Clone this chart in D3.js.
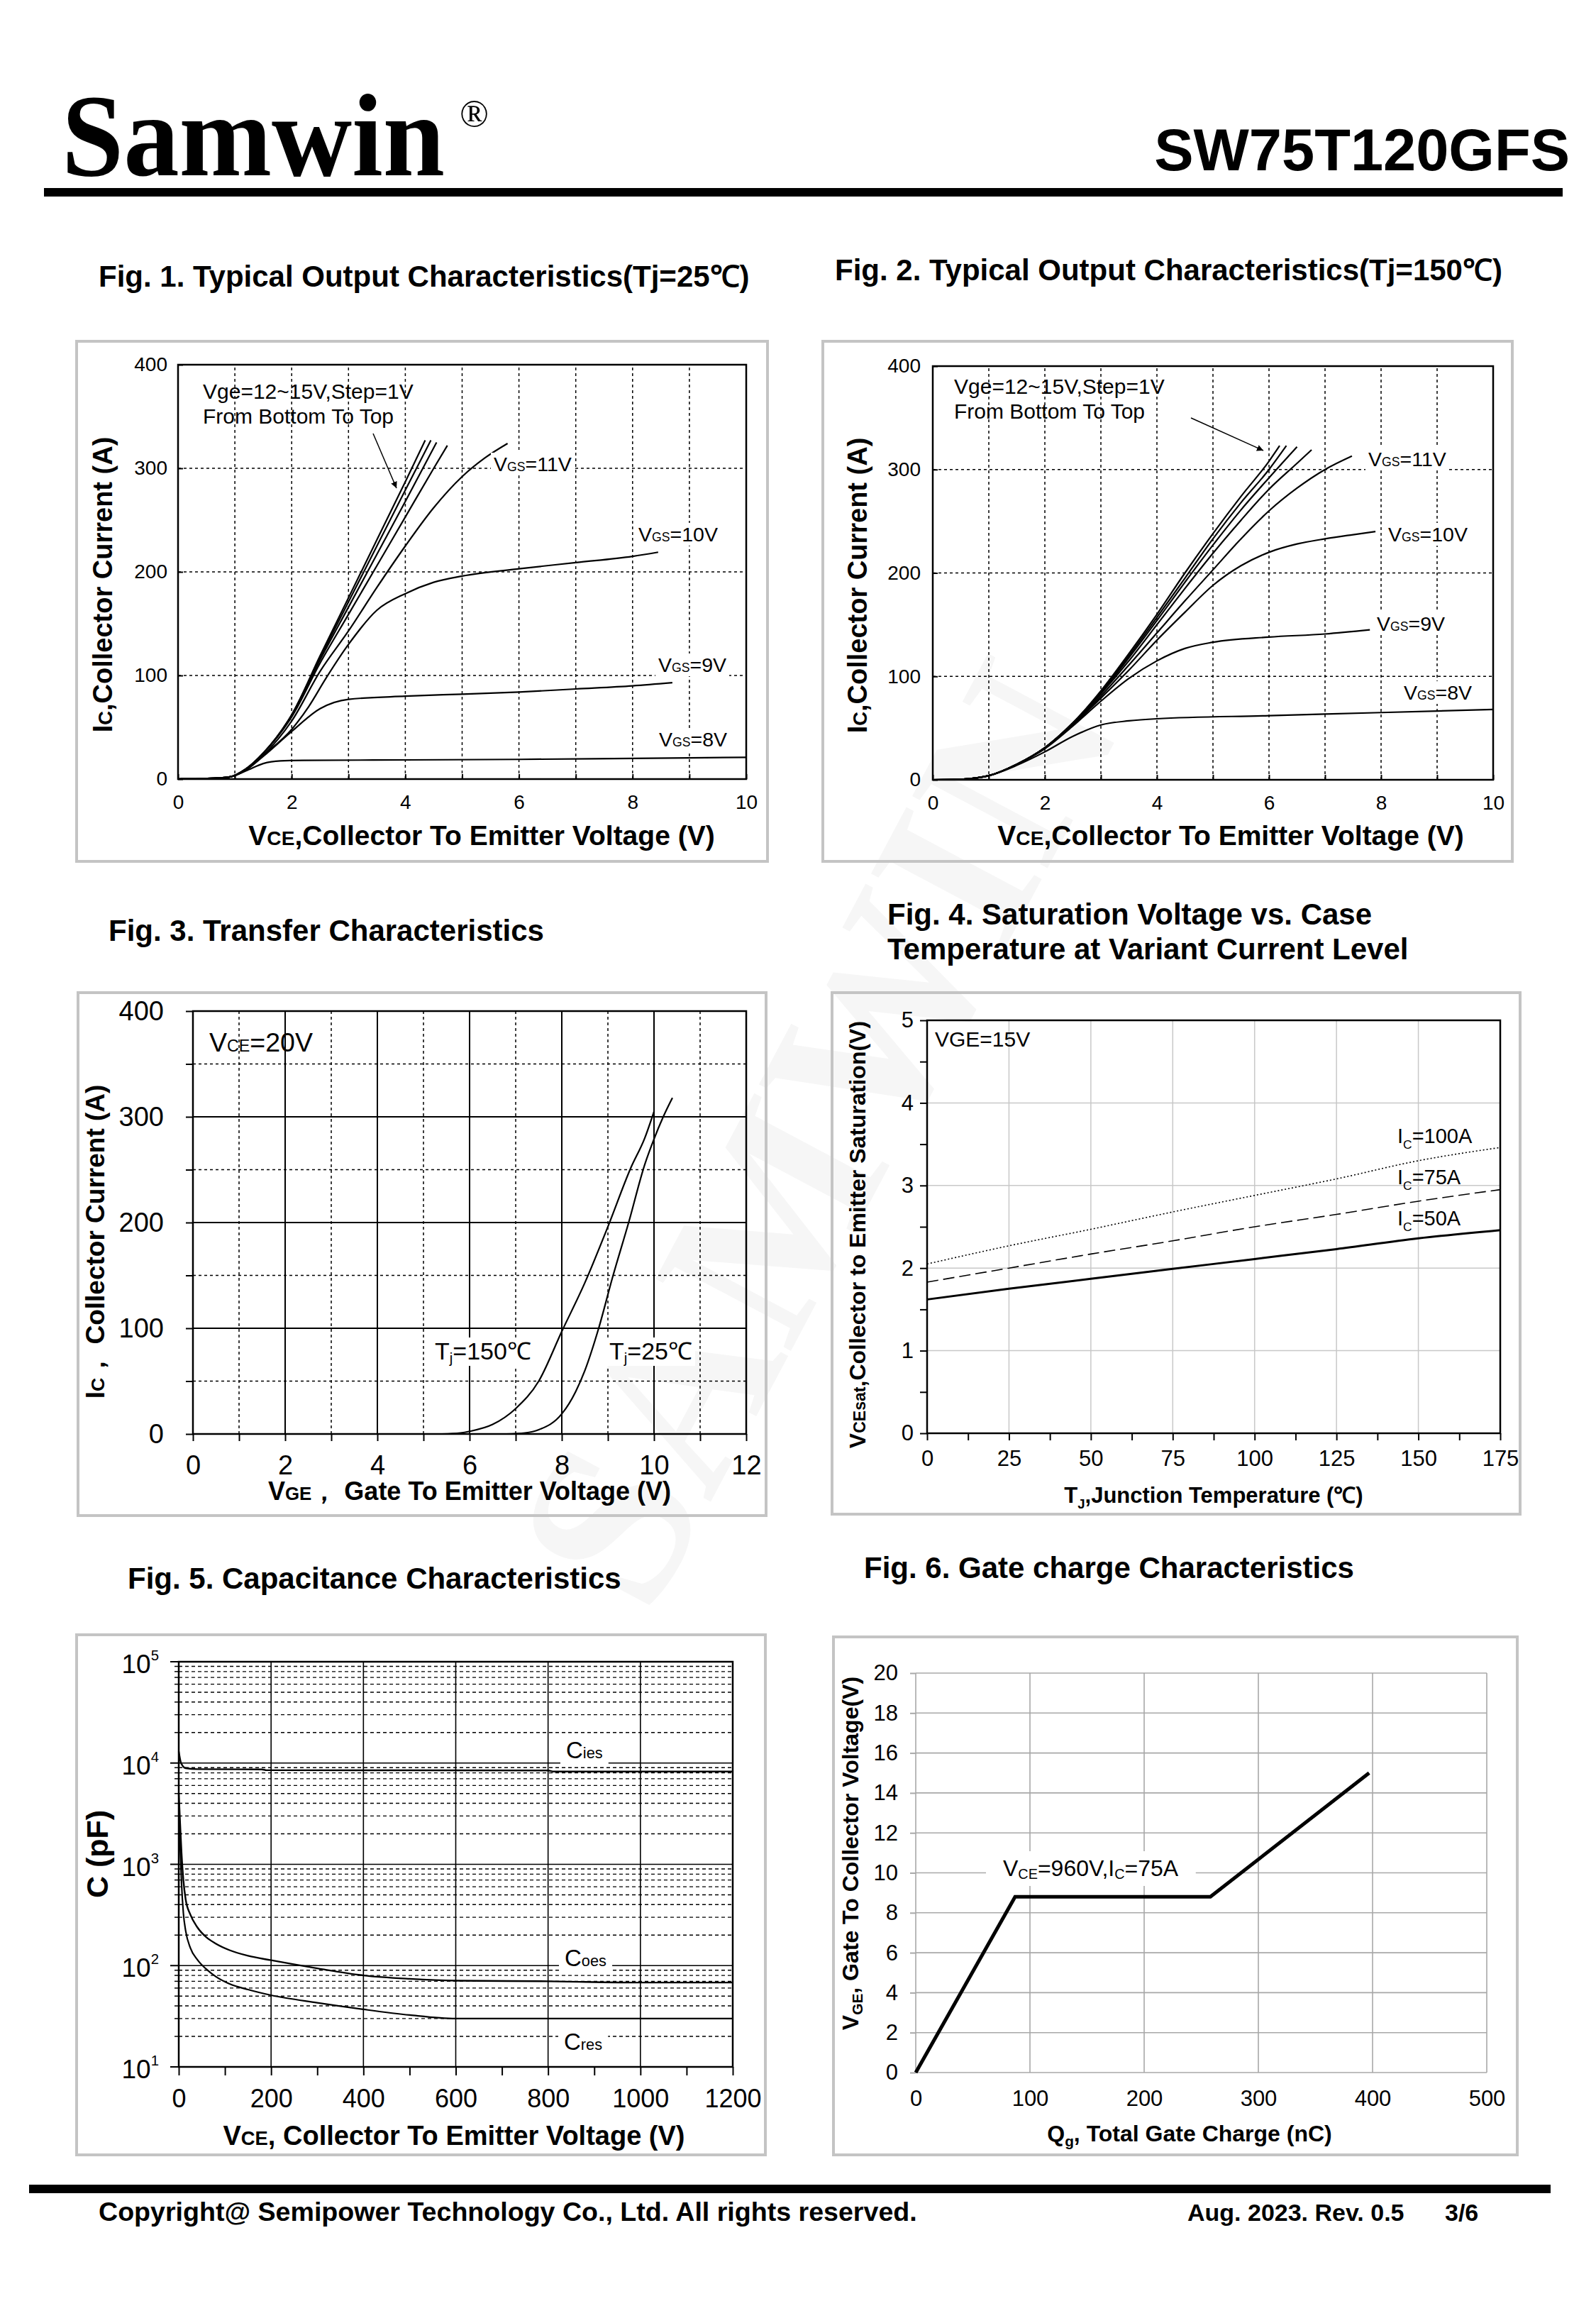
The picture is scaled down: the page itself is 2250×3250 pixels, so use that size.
<!DOCTYPE html>
<html lang="en">
<head>
<meta charset="utf-8">
<title>SW75T120GFS</title>
<style>
  body { margin: 0; background: #fff; }
  svg { display: block; }
  text { font-family: "Liberation Sans", Arial, sans-serif; fill: #000; }
</style>
</head>
<body>
<svg id="page" width="2250" height="3250"></svg>
<script src="https://d3js.org/d3.v7.min.js"></script>
<script>
// ---------- data ----------
// Fig 1: Vce (V), Ic (A), Tj = 25C
var f1_vgs8  = [[0,0],[0.5,0.5],[0.9,2],[1.2,8],[1.5,15],[1.8,17.5],[2.2,18],[4,18.5],[6,19],[8,20],[10,21]];
var f1_vgs9  = [[0,0],[0.5,0.5],[0.9,2],[1.2,9],[1.5,22],[2,46],[2.5,68],[3,77],[4,80],[5,82],[6,84],[7,87],[8,90],[8.7,93]];
var f1_vgs10 = [[0,0],[0.5,0.5],[0.9,2],[1.2,9],[1.5,23],[2,48],[2.3,70],[2.6,97],[3,130],[3.5,163],[4,179],[4.5,190],[5,196],[6,203],[7,209],[8,215],[8.45,219]];
var f1_vgs11 = [[0,0],[0.5,0.5],[0.9,2],[1.2,9],[1.5,23],[2,56],[2.5,104],[3,143],[3.5,185],[4,225],[4.5,262],[5,292],[5.4,310],[5.8,324]];
var f1_vgs12 = [[0,0],[0.5,0.5],[0.9,2],[1.2,10],[1.5,25],[2,60],[2.5,112],[3,159],[3.5,206],[4,253],[4.5,300],[4.74,322]];
var f1_vgs13 = [[0,0],[0.5,0.5],[0.9,2],[1.2,10],[1.5,25],[2,61],[2.5,115],[3,166],[3.5,217],[4,268],[4.55,325]];
var f1_vgs14 = [[0,0],[0.5,0.5],[0.9,2],[1.2,10],[1.5,25],[2,62],[2.5,117],[3,171],[3.5,225],[4,279],[4.45,327]];
var f1_vgs15 = [[0,0],[0.5,0.5],[0.9,2],[1.2,10],[1.5,25],[2,62],[2.5,119],[3,175],[3.5,231],[4,287],[4.35,327]];

// Fig 2: Vce (V), Ic (A), Tj = 150C
var f2_vgs8  = [[0,0],[0.5,0.5],[0.8,2],[1,4],[1.5,14],[2,27],[2.5,42],[3,53],[3.5,57],[4,59],[6,62],[8,65],[10,68]];
var f2_vgs9  = [[0,0],[0.5,0.5],[0.8,2],[1,4],[1.5,15],[2,30],[2.5,52],[3,76],[3.5,98],[4,115],[4.5,127],[5,133],[6,138],[7,141],[7.8,145]];
var f2_vgs10 = [[0,0],[0.5,0.5],[0.8,2],[1,4],[1.5,15],[2,31],[2.5,53],[3,79],[3.5,106],[4,135],[4.5,162],[5,188],[5.5,207],[6,220],[6.5,228],[7,233],[7.5,237],[7.9,240]];
var f2_vgs11 = [[0,0],[0.5,0.5],[0.8,2],[1,4],[1.5,15],[2,31],[2.5,54],[3,81],[3.5,111],[4,142],[4.5,173],[5,203],[5.5,233],[6,260],[6.5,282],[7,300],[7.48,313]];
var f2_vgs12 = [[0,0],[0.5,0.5],[0.8,2],[1,4],[1.5,15],[2,31],[2.5,54],[3,83],[3.5,115],[4,150],[4.5,185],[5,219],[5.5,251],[6,281],[6.5,306],[6.76,319]];
var f2_vgs13 = [[0,0],[0.5,0.5],[0.8,2],[1,4],[1.5,15],[2,31],[2.5,55],[3,84],[3.5,118],[4,154],[4.5,191],[5,227],[5.5,261],[6,292],[6.5,322]];
var f2_vgs14 = [[0,0],[0.5,0.5],[0.8,2],[1,4],[1.5,15],[2,31],[2.5,55],[3,85],[3.5,120],[4,157],[4.5,195],[5,233],[5.5,268],[6,300],[6.31,323]];
var f2_vgs15 = [[0,0],[0.5,0.5],[0.8,2],[1,4],[1.5,15],[2,31],[2.5,55],[3,86],[3.5,122],[4,160],[4.5,200],[5,238],[5.5,274],[6,308],[6.19,323]];

// Fig 3: Vge (V), Ic (A), Vce = 20V
var f3_tj150 = [[5.4,0],[5.8,1],[6,2.5],[6.5,9],[7,24],[7.5,50],[8,97],[8.5,143],[9,196],[9.5,252],[9.8,280],[10,305]];
var f3_tj25  = [[6.8,0],[7.2,1],[7.5,4],[8,19],[8.3,40],[8.5,60],[8.8,100],[9.1,148],[9.45,200],[9.8,255],[10,279],[10.2,300],[10.4,318]];

// Fig 4: Tj (C), Vce(sat) (V)
var f4_ic100 = [[0,2.05],[25,2.27],[50,2.47],[75,2.68],[100,2.88],[125,3.08],[150,3.3],[175,3.46]];
var f4_ic75  = [[0,1.83],[25,2.0],[50,2.17],[75,2.33],[100,2.5],[125,2.65],[150,2.81],[175,2.95]];
var f4_ic50  = [[0,1.62],[25,1.75],[50,1.87],[75,1.99],[100,2.11],[125,2.23],[150,2.36],[175,2.46]];

// Fig 5: Vce (V), C (pF)
var f5_cies = [[0,13000],[5,10000],[15,8900],[40,8700],[180,8650],[190,8500],[800,8450],[810,8250],[1200,8250]];
var f5_coes = [[0,5000],[3,2500],[6,1300],[10,700],[15,450],[25,320],[40,240],[60,190],[80,165],[110,142],[150,125],[200,113],[300,94],[400,80],[500,74],[600,71],[800,70],[1000,68],[1200,68]];
var f5_cres = [[0,4000],[3,1500],[6,650],[10,330],[15,220],[25,150],[40,115],[60,92],[80,78],[110,66],[150,58],[200,51],[300,43],[400,37],[500,32.5],[600,30],[800,30],[1000,30],[1200,30]];

// Fig 6: Qg (nC), Vge (V)
var f6_qg = [[0,0],[87,8.8],[258,8.8],[397,15]];

// tick labels
var f12_xTicks = [0,2,4,6,8,10];
var f12_yTicks = [0,100,200,300,400];
var f3_xTicks = [0,2,4,6,8,10,12];
var f3_yTicks = [0,100,200,300,400];
var f4_xTicks = [0,25,50,75,100,125,150,175];
var f4_yTicks = [0,1,2,3,4,5];
var f5_xTicks = [0,200,400,600,800,1000,1200];
var f5_decades = [1,2,3,4,5];
var f6_xTicks = [0,100,200,300,400,500];
var f6_yTicks = [0,2,4,6,8,10,12,14,16,18,20];

// ---------- helpers ----------
var svg = d3.select('#page');
var FONT = '"Liberation Sans", Arial, sans-serif';

// text made of parts; a part may be smaller and shifted (subscripts)
function rich(g, x, y, parts, size, o) {
  o = o || {};
  var t = g.append('text').attr('x', x).attr('y', y).attr('font-size', size)
    .attr('text-anchor', o.anchor || 'start')
    .attr('font-weight', o.bold ? 'bold' : 'normal');
  if (o.rotate) t.attr('transform', 'rotate(-90,' + x + ',' + y + ')');
  var shift = 0;
  parts.forEach(function (p) {
    if (typeof p === 'string') p = {t: p};
    var want = p.dy || 0;
    var s = t.append('tspan').text(p.t).attr('dy', want - shift);
    shift = want;
    if (p.fs) s.attr('font-size', size * p.fs);
  });
  return t;
}

// white box behind a label, hides the grid under it
function whiteBehind(g, t, padX, padY) {
  var b = t.node().getBBox();
  g.insert('rect', function () { return t.node(); })
    .attr('x', b.x - padX).attr('y', b.y - padY)
    .attr('width', b.width + 2 * padX).attr('height', b.height + 2 * padY)
    .attr('fill', '#fff');
}

function panel(x0, y0, x1, y1) {
  svg.append('rect').attr('x', x0).attr('y', y0).attr('width', x1 - x0).attr('height', y1 - y0)
    .attr('fill', 'none').attr('stroke', '#c4c4c4').attr('stroke-width', 4);
}

function title(x, y, s) {
  svg.append('text').attr('x', x).attr('y', y).attr('font-size', 42).attr('font-weight', 'bold').text(s);
}

function styleAxis(a, size) {
  a.attr('font-size', size).attr('font-family', FONT);
  a.select('.domain').remove();
  a.selectAll('.tick line').attr('stroke', '#000').attr('stroke-width', 2);
  a.selectAll('text').attr('fill', '#000');
}

function gridX(g, xs, ys, vals, style) {
  g.selectAll(null).data(vals).enter().append('line')
    .attr('x1', function (d) { return xs(d); }).attr('x2', function (d) { return xs(d); })
    .attr('y1', ys.range()[0]).attr('y2', ys.range()[1])
    .attr('stroke', style.c || '#000').attr('stroke-width', style.w || 1.5)
    .attr('stroke-dasharray', style.dash || null);
}
function gridY(g, xs, ys, vals, style) {
  g.selectAll(null).data(vals).enter().append('line')
    .attr('y1', function (d) { return ys(d); }).attr('y2', function (d) { return ys(d); })
    .attr('x1', xs.range()[0]).attr('x2', xs.range()[1])
    .attr('stroke', style.c || '#000').attr('stroke-width', style.w || 1.5)
    .attr('stroke-dasharray', style.dash || null);
}
function frame(g, xs, ys, w) {
  g.append('rect').attr('x', xs.range()[0]).attr('y', ys.range()[1])
    .attr('width', xs.range()[1] - xs.range()[0]).attr('height', ys.range()[0] - ys.range()[1])
    .attr('fill', 'none').attr('stroke', '#000').attr('stroke-width', w || 2.5);
}
function curve(g, xs, ys, data, w, dash) {
  var line = d3.line().x(function (d) { return xs(d[0]); }).y(function (d) { return ys(d[1]); })
    .curve(d3.curveMonotoneX);
  g.append('path').datum(data).attr('d', line).attr('fill', 'none')
    .attr('stroke', '#000').attr('stroke-width', w).attr('stroke-linejoin', 'round')
    .attr('stroke-dasharray', dash || null);
}
function arrow(g, x0, y0, x1, y1) {
  g.append('line').attr('x1', x0).attr('y1', y0).attr('x2', x1).attr('y2', y1)
    .attr('stroke', '#000').attr('stroke-width', 1.5).attr('marker-end', 'url(#ah)');
}

svg.append('defs').append('marker').attr('id', 'ah').attr('viewBox', '0 0 10 10')
  .attr('refX', 10).attr('refY', 5).attr('markerWidth', 9).attr('markerHeight', 9)
  .attr('markerUnits', 'userSpaceOnUse').attr('orient', 'auto')
  .append('path').attr('d', 'M0,0 L10,5 L0,10 z').attr('fill', '#000');

// faint watermark
svg.append('text').attr('x', 1250).attr('y', 1650).attr('text-anchor', 'middle')
  .attr('font-weight', 'bold').attr('font-size', 330).style('fill', '#f6f6f6')
  .style('font-family', '"Liberation Serif", serif')
  .attr('transform', 'rotate(-62,1250,1650)').text('SAMWIN');

// ---------- header / footer ----------
svg.append('text').attr('x', 87).attr('y', 247)
  .attr('font-weight', 'bold').attr('font-size', 158).attr('textLength', 540)
  .attr('lengthAdjust', 'spacingAndGlyphs')
  .attr('transform', 'translate(0,247) scale(1,1.05) translate(0,-247)')
  .style('font-family', '"Liberation Serif", serif').text('Samwin');
svg.append('text').attr('x', 648).attr('y', 178).attr('font-size', 54)
  .style('font-family', '"Liberation Serif", serif').text('\u00AE');
svg.append('text').attr('x', 2213).attr('y', 240).attr('text-anchor', 'end')
  .attr('font-size', 83).attr('font-weight', 'bold').text('SW75T120GFS');
svg.append('rect').attr('x', 62).attr('y', 265).attr('width', 2141).attr('height', 12).attr('fill', '#000');

svg.append('rect').attr('x', 41).attr('y', 3079).attr('width', 2145).attr('height', 12).attr('fill', '#000');
svg.append('text').attr('x', 139).attr('y', 3130).attr('font-size', 37.6).attr('font-weight', 'bold')
  .text('Copyright@ Semipower Technology Co., Ltd. All rights reserved.');
svg.append('text').attr('x', 1674).attr('y', 3130).attr('font-size', 34).attr('font-weight', 'bold')
  .text('Aug. 2023. Rev. 0.5');
svg.append('text').attr('x', 2037).attr('y', 3130).attr('font-size', 34).attr('font-weight', 'bold')
  .text('3/6');

// ---------- titles ----------
title(139, 404, 'Fig. 1. Typical Output Characteristics(Tj=25\u2103)');
title(1177, 395, 'Fig. 2. Typical Output Characteristics(Tj=150\u2103)');
title(153, 1326, 'Fig. 3. Transfer Characteristics');
title(1251, 1303, 'Fig. 4. Saturation Voltage vs. Case');
title(1251, 1352, 'Temperature at Variant Current Level');
title(180, 2239, 'Fig. 5. Capacitance Characteristics');
title(1218, 2224, 'Fig. 6. Gate charge Characteristics');

// ---------- Fig 1 & Fig 2: output characteristics ----------
function outputFig(o) {
  panel(o.box[0], o.box[1], o.box[2], o.box[3]);
  var g = svg.append('g');
  var x = d3.scaleLinear().domain([0, 10]).range(o.xr);
  var y = d3.scaleLinear().domain([0, 400]).range(o.yr);
  gridX(g, x, y, d3.range(1, 10), {dash: '4,4'});
  gridY(g, x, y, [100, 200, 300], {dash: '4,4'});
  var ax = g.append('g').attr('transform', 'translate(0,' + o.yr[0] + ')')
    .call(d3.axisBottom(x).tickValues(d3.range(0, 11)).tickSize(-7).tickPadding(22)
      .tickFormat(function (d) { return f12_xTicks.indexOf(d) >= 0 ? d : ''; }));
  styleAxis(ax, 28);
  var ay = g.append('g').attr('transform', 'translate(' + o.xr[0] + ',0)')
    .call(d3.axisLeft(y).tickValues(f12_yTicks).tickSize(-7).tickPadding(o.ypad));
  styleAxis(ay, 28);
  frame(g, x, y, 2.5);
  o.curves.forEach(function (c) { curve(g, x, y, c, 2.2); });
  rich(g, o.note[0], o.note[1], ['Vge=12~15V,Step=1V'], 30);
  rich(g, o.note[0], o.note[1] + 35, ['From Bottom To Top'], 30);
  arrow(g, o.arrow[0], o.arrow[1], o.arrow[2], o.arrow[3]);
  o.labels.forEach(function (l) {
    var t = rich(g, l[0], l[1], ['V', {t: 'GS', fs: 0.62}, '=' + l[2]], 28.5);
    whiteBehind(g, t, 4, 0);
  });
  rich(g, o.xt[0], o.xt[1], ['V', {t: 'CE', fs: 0.72}, ',Collector To Emitter Voltage (V)'], 39,
    {bold: true, anchor: 'middle'});
  rich(g, o.yt[0], o.yt[1], ['I', {t: 'C', fs: 0.72}, ',Collector Current (A)'], 38,
    {bold: true, anchor: 'middle', rotate: true});
}

outputFig({
  box: [108, 481, 1082, 1214], xr: [251, 1052], yr: [1098, 514], ypad: 15,
  curves: [f1_vgs8, f1_vgs9, f1_vgs10, f1_vgs11, f1_vgs12, f1_vgs13, f1_vgs14, f1_vgs15],
  note: [286, 562], arrow: [526, 611, 559, 688],
  labels: [[696, 664, '11V'], [900, 763, '10V'], [928, 947, '9V'], [929, 1052, '8V']],
  xt: [679, 1191], yt: [158, 824]
});
outputFig({
  box: [1160, 481, 2132, 1214], xr: [1315, 2105], yr: [1099, 516], ypad: 17,
  curves: [f2_vgs8, f2_vgs9, f2_vgs10, f2_vgs11, f2_vgs12, f2_vgs13, f2_vgs14, f2_vgs15],
  note: [1345, 555], arrow: [1679, 589, 1781, 635],
  labels: [[1929, 657, '11V'], [1957, 763, '10V'], [1941, 889, '9V'], [1979, 986, '8V']],
  xt: [1735, 1191], yt: [1222, 825]
});

// ---------- Fig 3: transfer characteristics ----------
(function () {
  panel(110, 1399, 1080, 2136);
  var g = svg.append('g');
  var x = d3.scaleLinear().domain([0, 12]).range([272, 1052]);
  var y = d3.scaleLinear().domain([0, 400]).range([2021, 1425]);
  gridX(g, x, y, [1, 3, 5, 7, 9, 11], {dash: '4,4'});
  gridY(g, x, y, [50, 150, 250, 350], {dash: '4,4'});
  gridX(g, x, y, [2, 4, 6, 8, 10], {w: 2});
  gridY(g, x, y, [100, 200, 300], {w: 2});
  var ax = g.append('g').attr('transform', 'translate(0,2021)')
    .call(d3.axisBottom(x).tickValues(d3.range(0, 13)).tickSize(10).tickPadding(20)
      .tickFormat(function (d) { return f3_xTicks.indexOf(d) >= 0 ? d : ''; }));
  styleAxis(ax, 38);
  var ay = g.append('g').attr('transform', 'translate(272,0)')
    .call(d3.axisLeft(y).tickValues(d3.range(0, 401, 50)).tickSize(10).tickPadding(31)
      .tickFormat(function (d) { return f3_yTicks.indexOf(d) >= 0 ? d : ''; }));
  styleAxis(ay, 38);
  frame(g, x, y, 2.5);
  curve(g, x, y, f3_tj150, 2.2);
  curve(g, x, y, f3_tj25, 2.2);
  whiteBehind(g, rich(g, 613, 1916, ['T', {t: 'j', fs: 0.6, dy: 5}, {t: '=150\u2103'}], 34), 4, 0);
  whiteBehind(g, rich(g, 859, 1916, ['T', {t: 'j', fs: 0.6, dy: 5}, {t: '=25\u2103'}], 34), 4, 0);
  rich(g, 295, 1482, ['V', {t: 'CE', fs: 0.62}, '=20V'], 37.5);
  rich(g, 662, 2114, ['V', {t: 'GE', fs: 0.72}, '\uFF0C  Gate To Emitter Voltage (V)'], 36,
    {bold: true, anchor: 'middle'});
  rich(g, 147, 1750, ['I', {t: 'C', fs: 0.72}, '\uFF0C  Collector Current (A)'], 37,
    {bold: true, anchor: 'middle', rotate: true});
})();

// ---------- Fig 4: saturation voltage vs temperature ----------
(function () {
  panel(1173, 1399, 2143, 2134);
  var g = svg.append('g');
  var x = d3.scaleLinear().domain([0, 175]).range([1307, 2115]);
  var y = d3.scaleLinear().domain([0, 5]).range([2020, 1438]);
  gridX(g, x, y, [25, 50, 75, 100, 125, 150], {c: '#c8c8c8', w: 1.5});
  gridY(g, x, y, [1, 2, 3, 4], {c: '#c8c8c8', w: 1.5});
  var ax = g.append('g').attr('transform', 'translate(0,2020)')
    .call(d3.axisBottom(x).tickValues(d3.range(0, 176, 12.5)).tickSize(10).tickPadding(14)
      .tickFormat(function (d) { return f4_xTicks.indexOf(d) >= 0 ? d : ''; }));
  styleAxis(ax, 31);
  var ay = g.append('g').attr('transform', 'translate(1307,0)')
    .call(d3.axisLeft(y).tickValues(d3.range(0, 5.01, 0.5)).tickSize(10).tickPadding(9)
      .tickFormat(function (d) { return f4_yTicks.indexOf(d) >= 0 ? d : ''; }));
  styleAxis(ay, 31);
  frame(g, x, y, 2.5);
  curve(g, x, y, f4_ic100, 1.6, '2,3');
  curve(g, x, y, f4_ic75, 1.6, '16,7');
  curve(g, x, y, f4_ic50, 3);
  rich(g, 1318, 1475, ['VGE=15V'], 30);
  rich(g, 1970, 1611, ['I', {t: 'C', fs: 0.6, dy: 8}, {t: '=100A'}], 29);
  rich(g, 1970, 1669, ['I', {t: 'C', fs: 0.6, dy: 8}, {t: '=75A'}], 29);
  rich(g, 1970, 1727, ['I', {t: 'C', fs: 0.6, dy: 8}, {t: '=50A'}], 29);
  rich(g, 1711, 2118, ['T', {t: 'J', fs: 0.6, dy: 8}, {t: ',Junction Temperature (\u2103)'}], 31,
    {bold: true, anchor: 'middle'});
  rich(g, 1220, 1740, ['V', {t: 'CEsat', fs: 0.72}, ',Collector to Emitter Saturation(V)'], 32,
    {bold: true, anchor: 'middle', rotate: true});
})();

// ---------- Fig 5: capacitance ----------
(function () {
  panel(108, 2304, 1079, 3037);
  var g = svg.append('g');
  var x = d3.scaleLinear().domain([0, 1200]).range([252, 1033]);
  var y = d3.scaleLog().domain([10, 100000]).range([2913, 2342]);
  var minors = [];
  [10, 100, 1000, 10000].forEach(function (d) {
    for (var k = 2; k <= 9; k++) minors.push(d * k);
  });
  gridY(g, x, y, minors, {dash: '5,4', w: 1.4});
  gridY(g, x, y, [100, 1000, 10000], {w: 1.6});
  gridX(g, x, y, [200, 400, 600, 800, 1000], {w: 1.6});
  var ax = g.append('g').attr('transform', 'translate(0,2913)')
    .call(d3.axisBottom(x).tickValues(d3.range(0, 1201, 100)).tickSize(12).tickPadding(19)
      .tickFormat(function (d) { return f5_xTicks.indexOf(d) >= 0 ? d : ''; }));
  styleAxis(ax, 36);
  // left ticks: long at decades, short at minors
  g.selectAll(null).data(minors).enter().append('line')
    .attr('x1', 246).attr('x2', 252).attr('y1', function (d) { return y(d); }).attr('y2', function (d) { return y(d); })
    .attr('stroke', '#000').attr('stroke-width', 1.5);
  g.selectAll(null).data(f5_decades).enter().append('line')
    .attr('x1', 240).attr('x2', 252).attr('y1', function (d) { return y(Math.pow(10, d)); })
    .attr('y2', function (d) { return y(Math.pow(10, d)); })
    .attr('stroke', '#000').attr('stroke-width', 2);
  f5_decades.forEach(function (d) {
    rich(g, 224, y(Math.pow(10, d)) + 16, ['10', {t: String(d), fs: 0.55, dy: -18}], 37, {anchor: 'end'});
  });
  frame(g, x, y, 2.5);
  curve(g, x, y, f5_cies, 2.4);
  curve(g, x, y, f5_coes, 2.4);
  curve(g, x, y, f5_cres, 2.2);
  [['ies', 798, 2478], ['oes', 796, 2771], ['res', 795, 2889]].forEach(function (l) {
    var t = rich(g, l[1], l[2], ['C', {t: l[0], fs: 0.66}], 33);
    whiteBehind(g, t, 8, 2);
  });
  rich(g, 640, 3023, ['V', {t: 'CE', fs: 0.72}, ', Collector To Emitter Voltage (V)'], 38,
    {bold: true, anchor: 'middle'});
  rich(g, 152, 2613, ['C (pF)'], 43, {bold: true, anchor: 'middle', rotate: true});
})();

// ---------- Fig 6: gate charge ----------
(function () {
  panel(1175, 2307, 2139, 3037);
  var g = svg.append('g');
  var x = d3.scaleLinear().domain([0, 500]).range([1291, 2096]);
  var y = d3.scaleLinear().domain([0, 20]).range([2921, 2358]);
  gridX(g, x, y, [100, 200, 300, 400, 500], {c: '#a8a8a8', w: 1.6});
  gridY(g, x, y, f6_yTicks.slice(1), {c: '#a8a8a8', w: 1.6});
  var ax = g.append('g').attr('transform', 'translate(0,2921)')
    .call(d3.axisBottom(x).tickValues(f6_xTicks).tickSize(0).tickPadding(25));
  styleAxis(ax, 31);
  var ay = g.append('g').attr('transform', 'translate(1291,0)')
    .call(d3.axisLeft(y).tickValues(f6_yTicks).tickSize(8).tickPadding(17));
  styleAxis(ay, 31);
  ay.selectAll('.tick line').attr('stroke', '#a8a8a8');
  g.append('line').attr('x1', 1291).attr('x2', 1291).attr('y1', 2358).attr('y2', 2921)
    .attr('stroke', '#a8a8a8').attr('stroke-width', 1.6);
  g.append('line').attr('x1', 1291).attr('x2', 2096).attr('y1', 2921).attr('y2', 2921)
    .attr('stroke', '#a8a8a8').attr('stroke-width', 1.6);
  var t = rich(g, 1414, 2644, ['V', {t: 'CE', fs: 0.62, dy: 4}, {t: '=960V,I'}, {t: 'C', fs: 0.62, dy: 4}, {t: '=75A'}], 32);
  var b = t.node().getBBox();
  g.insert('rect', function () { return t.node(); }).attr('x', b.x - 24).attr('y', b.y - 6)
    .attr('width', b.width + 48).attr('height', b.height + 12).attr('fill', '#fff');
  var line = d3.line().x(function (d) { return x(d[0]); }).y(function (d) { return y(d[1]); });
  g.append('path').datum(f6_qg).attr('d', line).attr('fill', 'none')
    .attr('stroke', '#000').attr('stroke-width', 5).attr('stroke-linejoin', 'miter');
  rich(g, 1677, 3018, ['Q', {t: 'g', fs: 0.65, dy: 7}, {t: ', Total Gate Charge (nC)'}], 32,
    {bold: true, anchor: 'middle'});
  rich(g, 1210, 2612, ['V', {t: 'GE', fs: 0.65, dy: 6}, {t: ',  Gate To  Collector Voltage(V)'}], 32,
    {bold: true, anchor: 'middle', rotate: true});
})();
</script>
</body>
</html>
